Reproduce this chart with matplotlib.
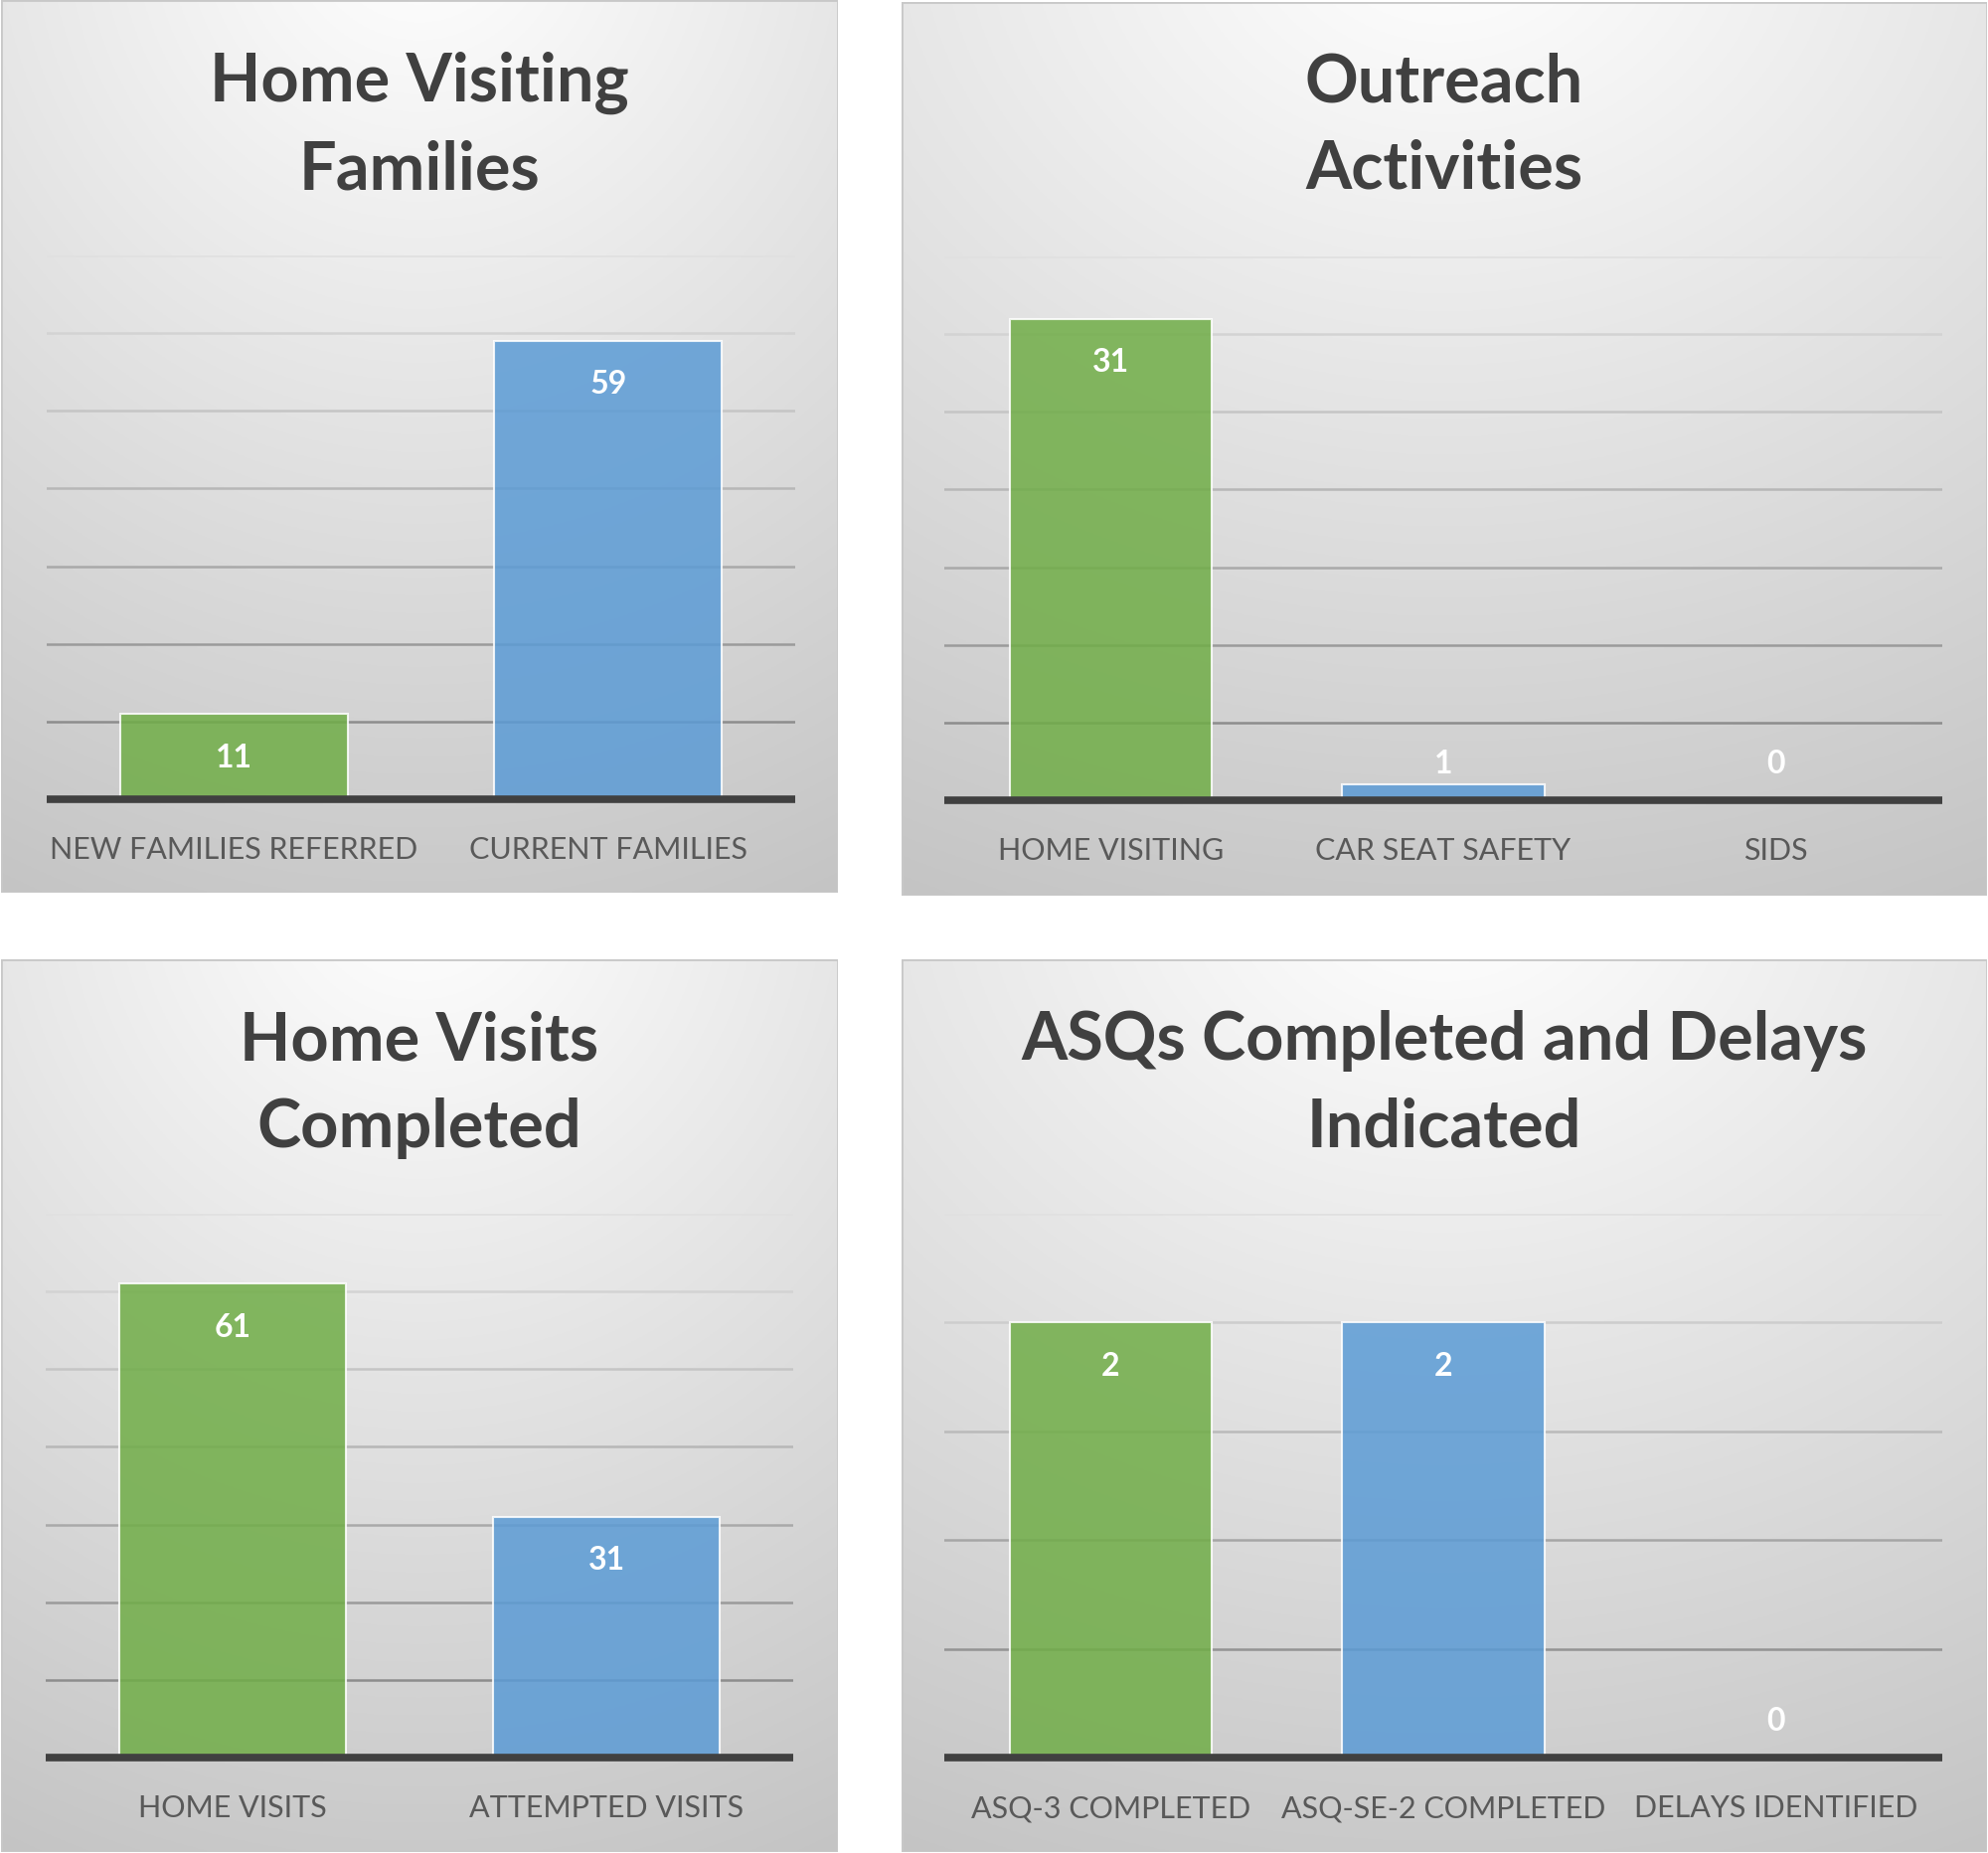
import numpy as np
import matplotlib.pyplot as plt
from matplotlib.patches import Rectangle

# Дані для чотирьох діаграм
titles = ["Home Visiting\nFamilies", "Outreach\nActivities",
          "Home Visits\nCompleted", "ASQs Completed and Delays\nIndicated"]

cats_families = ["NEW FAMILIES REFERRED", "CURRENT FAMILIES"]
vals_families = [11, 59]

cats_outreach = ["HOME VISITING", "CAR SEAT SAFETY", "SIDS"]
vals_outreach = [31, 1, 0]

cats_visits = ["HOME VISITS", "ATTEMPTED VISITS"]
vals_visits = [61, 31]

cats_asq = ["ASQ-3 COMPLETED", "ASQ-SE-2 COMPLETED", "DELAYS IDENTIFIED"]
vals_asq = [2, 2, 0]

# межі осей та крок сітки
y_max = [70, 35, 70, 2.5]
y_step = [10, 5, 10, 0.5]

GREEN = "#70AD47"
BLUE = "#5B9BD5"

W, H = 2000, 1865
fig = plt.figure(figsize=(W / 100, H / 100), dpi=100)
fig.patch.set_facecolor("white")

FONT = "Lato"

# рамки панелей та області побудови, у пікселях (x0, y0, x1, y1)
panels = [(1, 1, 843, 899), (907, 3, 1999, 902),
          (1, 966, 843, 1864), (907, 966, 1999, 1864)]
plots = [(47, 258, 800, 805), (950, 259, 1954, 806),
         (46, 1222, 798, 1769), (950, 1222, 1954, 1769)]
title_y = [127, 127, 1091, 1091]


def rect(b):
    x0, y0, x1, y1 = b
    return [x0 / W, 1 - y1 / H, (x1 - x0) / W, (y1 - y0) / H]


# фон з радіальним градієнтом
gx, gy = np.meshgrid(np.linspace(0, 1, 300), np.linspace(0, 1, 300))
d = np.sqrt((gx - 0.5) ** 2 + (gy + 0.1) ** 2)
shade = np.clip(1.0045 - 0.195 * d, 0, 1)
bg_img = np.dstack([shade, shade, shade])

data = [(cats_families, vals_families), (cats_outreach, vals_outreach),
        (cats_visits, vals_visits), (cats_asq, vals_asq)]

for i in range(4):
    bg = fig.add_axes(rect(panels[i]))
    bg.imshow(bg_img, extent=[0, 1, 0, 1], aspect="auto", origin="upper")
    bg.add_patch(Rectangle((0, 0), 1, 1, transform=bg.transAxes, fill=False,
                           edgecolor="#c8c8c8", linewidth=2))
    bg.set_axis_off()

    px0, py0, px1, py1 = panels[i]
    cx = (px0 + px1) / 2
    fig.text(cx / W, 1 - title_y[i] / H, titles[i], ha="center", va="center",
             fontsize=48, fontweight="bold", color="#404040", family=FONT,
             linespacing=1.5)

    cats, vals = data[i]
    ax = fig.add_axes(rect(plots[i]))
    ax.patch.set_alpha(0)
    x = np.arange(len(cats))
    ax.set_xlim(-0.5, len(cats) - 0.5)
    ax.set_ylim(0, y_max[i])

    # лінії сітки: світліші вгорі, темніші внизу
    levels = np.arange(y_step[i], y_max[i] + 1e-9, y_step[i])
    for lv in levels:
        t = lv / y_max[i]
        g = 0.50 + 0.38 * t
        ax.axhline(lv, color=(g, g, g), linewidth=1.8, zorder=1)

    colors = [GREEN, BLUE, GREEN][:len(cats)]
    ax.bar(x, vals, width=0.607, color=colors, alpha=0.85,
           edgecolor=(1, 1, 1, 0.55), linewidth=1.5, zorder=2)
    ax.axhline(0, color="#404040", linewidth=5.5, zorder=3, clip_on=False,
               solid_capstyle="butt")

    # підписи значень
    ppu = (plots[i][3] - plots[i][1]) / y_max[i]
    for xi, v in zip(x, vals):
        if v * ppu > 60:
            ax.annotate(str(v), (xi, v), xytext=(0, -43), textcoords="offset pixels",
                        ha="center", va="center", fontsize=23, fontweight="bold",
                        color="white", family=FONT, zorder=4)
        else:
            ax.annotate(str(v), (xi, 0), xytext=(0, 37), textcoords="offset pixels",
                        ha="center", va="center", fontsize=23, fontweight="bold",
                        color="white", family=FONT, zorder=4)

    ax.set_xticks(x)
    ax.set_xticklabels(cats, fontsize=22, color="#595959", family=FONT)
    ax.tick_params(axis="x", length=0, pad=26)
    ax.set_yticks([])
    for s in ax.spines.values():
        s.set_visible(False)

fig.savefig("out.png", dpi=100, facecolor="white")
